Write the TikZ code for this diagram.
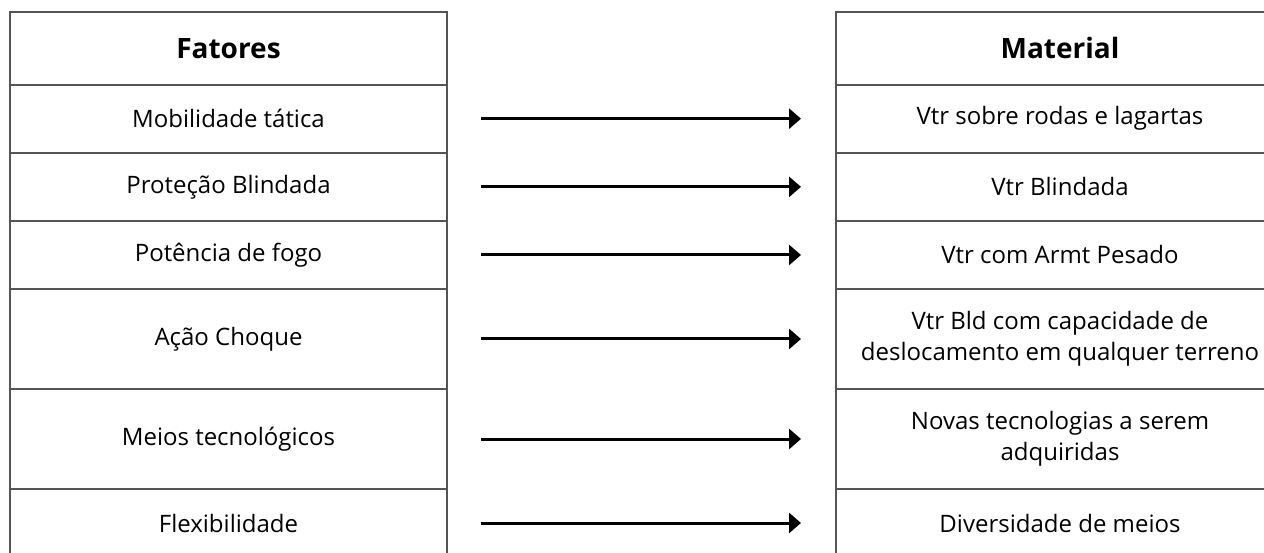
\documentclass[tikz,border=0pt]{standalone}
\usepackage{fontspec}
\setmainfont{Open Sans}
\usepackage{tikz}
\usetikzlibrary{arrows.meta,positioning}

\definecolor{rule}{HTML}{555555}

\begin{document}
\begin{tikzpicture}[x=1pt,y=-1pt,node distance=0pt,>={Triangle[length=12pt,width=20pt]}]

	  					\tikzstyle{cell}=[rectangle,draw=rule,line width=2pt,inner sep=0pt,outer sep=0pt,align=center,font=\fontsize{24}{31}\selectfont]
		  				\tikzstyle{fcell}=[cell,minimum width=437pt]
		  				\tikzstyle{mcell}=[cell,minimum width=448pt]
		  				\tikzstyle{head}=[font=\fontsize{28}{31}\selectfont\bfseries,minimum height=72.7pt]
		  				\tikzstyle{flow}=[->,line width=3pt,shorten <=34pt,shorten >=35pt]

						\useasboundingbox (0,0) rectangle (1264,553);
						\fill [white] (0,0) rectangle (1264,553);
						\clip (0,0) rectangle (1264,553);

    					\node [fcell,head] (fat) at (228.5,48.35) {Fatores};
    					\node [fcell,minimum height=68pt] (f1) [below=of fat] {Mobilidade tática};
    					\node [fcell,minimum height=68.3pt] (f2) [below=of f1] {Proteção Blindada};
    					\node [fcell,minimum height=68pt] (f3) [below=of f2] {Potência de fogo};
    					\node [fcell,minimum height=100pt] (f4) [below=of f3] {Ação Choque};
    					\node [fcell,minimum height=100pt] (f5) [below=of f4] {Meios tecnológicos};
    					\node [fcell,minimum height=68pt] (f6) [below=of f5] {Flexibilidade};

    					\node [mcell,head] (mat) at (1060,48.35) {Material};
    					\node [mcell,minimum height=68pt] (m1) [below=of mat] {Vtr sobre rodas e lagartas};
    					\node [mcell,minimum height=68.3pt] (m2) [below=of m1] {Vtr Blindada};
    					\node [mcell,minimum height=68pt] (m3) [below=of m2] {Vtr com Armt Pesado};
    					\node [mcell,minimum height=100pt] (m4) [below=of m3] {Vtr Bld com capacidade de\\deslocamento em qualquer terreno};
    					\node [mcell,minimum height=100pt] (m5) [below=of m4] {Novas tecnologias a serem\\adquiridas};
    					\node [mcell,minimum height=68pt] (m6) [below=of m5] {Diversidade de meios};

						\foreach \i in {1,...,6}
							\draw [flow] (f\i) -- (m\i);
					\end{tikzpicture}
\end{document}
